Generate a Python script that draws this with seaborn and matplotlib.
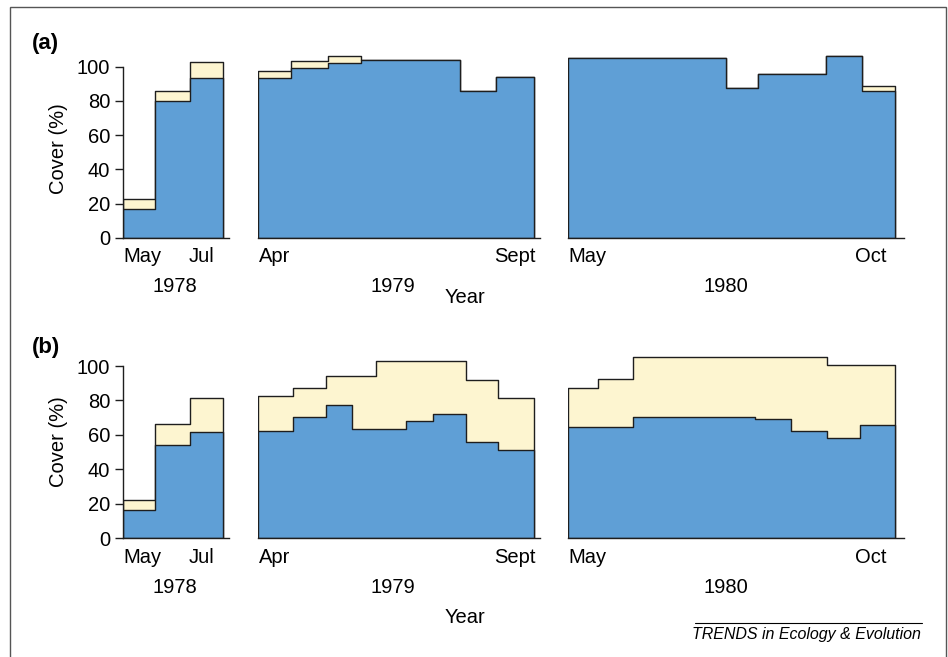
#!/usr/bin/env python3
#
# Seasonal cover of two layers, 1978-1980, panels (a) and (b)
#
import numpy as np
import pandas as pd
import matplotlib
matplotlib.use('Agg')
import matplotlib.pyplot as plt
from matplotlib.patches import Rectangle
from matplotlib.lines import Line2D
import seaborn as sns

sns.set_style('ticks')
plt.rcParams['font.family'] = ['Liberation Sans', 'DejaVu Sans']
plt.rcParams['text.color'] = 'black'
plt.rcParams['xtick.color'] = 'black'
plt.rcParams['ytick.color'] = 'black'
plt.rcParams['axes.labelcolor'] = 'black'

#
# Data (x = day of year at interval edges, y = cover %)
#
days_1978 = [121, 142, 165, 187]
a_blue_1978 = [17, 80, 93.5]
a_total_1978 = [22.5, 86, 102.5]
b_blue_1978 = [16.5, 54, 61.5]
b_total_1978 = [22.5, 66.5, 81.5]

days_1979_a = [91, 113, 137, 159, 225, 249, 274]
a_blue_1979 = [93.5, 99.5, 102, 104, 85.5, 94]
a_total_1979 = [97.5, 103.5, 106.5, 104, 85.5, 94]

days_1979_b = [91, 114, 136, 153, 169, 189, 207, 229, 250, 274]
b_blue_1979 = [62.5, 70.5, 77.5, 63.5, 63.5, 68, 72, 56, 51]
b_total_1979 = [82.5, 87.5, 94.5, 94.5, 103, 103, 103, 92, 81.5]

days_1980_a = [122, 227, 248, 293, 317, 339]
a_blue_1980 = [105, 87.5, 96, 106.5, 85.5]
a_total_1980 = [105, 87.5, 96, 106.5, 89]

days_1980_b = [122, 142, 165, 246, 270, 294, 316, 339]
b_blue_1980 = [64.5, 64.5, 70.5, 69, 62, 58.5, 66]
b_total_1980 = [87.5, 92.5, 105, 105, 105, 100.5, 100.5]

years = ['1978', '1979', '1980']
tick_days_1978 = [134, 173]
tick_days_1979 = [102, 261]
tick_days_1980 = [135, 323]
tick_names_1978 = ['May', 'Jul']
tick_names_1979 = ['Apr', 'Sept']
tick_names_1980 = ['May', 'Oct']

blue = '#5f9fd6'
cream = '#fdf5d0'
dark = '#1e1e1e'

W, H = 948, 657


def fx(px):
    return px / W


def fy(py):
    return 1 - py / H


def draw_cover(ax, edges, lower, total):
    edges = [float(e) for e in edges]
    mids = [(a + b) / 2 for a, b in zip(edges[:-1], edges[1:])]
    for vals, col in ((total, cream), (lower, blue)):
        df = pd.DataFrame({'day': mids, 'cover': vals})
        sns.histplot(data=df, x='day', weights='cover', bins=edges,
                     element='step', fill=True, color=col, alpha=1,
                     edgecolor=dark, linewidth=1.0, ax=ax)


fig = plt.figure(figsize=(W / 100, H / 100), dpi=100)

# Axes boxes in pixels: (left, right), and y pixel of 0 and of 110
xboxes = [(122.7, 229), (258.3, 540), (568.3, 904)]
xlims = [(121, 191), (91, 278), (122, 345)]
rows = [
    ('(a)', 237.7, 49.6,
     [(days_1978, a_blue_1978, a_total_1978),
      (days_1979_a, a_blue_1979, a_total_1979),
      (days_1980_a, a_blue_1980, a_total_1980)]),
    ('(b)', 538.3, 348.8,
     [(days_1978, b_blue_1978, b_total_1978),
      (days_1979_b, b_blue_1979, b_total_1979),
      (days_1980_b, b_blue_1980, b_total_1980)]),
]
ticks = [(tick_days_1978, tick_names_1978),
         (tick_days_1979, tick_names_1979),
         (tick_days_1980, tick_names_1980)]
year_x = [175, 393, 726]

for irow, (tag, y0, y110, series) in enumerate(rows):
    for icol, (edges, lower, total) in enumerate(series):
        l, r = xboxes[icol]
        ax = fig.add_axes([fx(l), fy(y0), fx(r - l), (y0 - y110) / H])
        draw_cover(ax, edges, lower, total)
        ax.set_xlim(*xlims[icol])
        ax.set_ylim(0, 110)
        ax.set_xlabel('')
        ax.set_ylabel('')
        ax.set_xticks(ticks[icol][0])
        ax.set_xticklabels(ticks[icol][1], fontsize=14.5)
        ax.tick_params(axis='x', length=0, pad=7)
        for side in ('top', 'right'):
            ax.spines[side].set_visible(False)
        ax.spines['bottom'].set_linewidth(1.0)
        ax.spines['bottom'].set_color(dark)
        if icol == 0:
            ax.spines['left'].set_bounds(0, 100)
            ax.spines['left'].set_linewidth(1.0)
            ax.spines['left'].set_color(dark)
            ax.set_yticks(range(0, 101, 20))
            ax.tick_params(axis='y', length=5.5, width=1.0, pad=3.5,
                           labelsize=14.5, color=dark)
        else:
            ax.spines['left'].set_visible(False)
            ax.set_yticks([])
        ax.patch.set_alpha(0)

        base = 292 if irow == 0 else 593.3
        fig.text(fx(year_x[icol]), fy(base), years[icol], fontsize=14.5,
                 ha='center', va='baseline')

    # Panel tag, y label and shared x label
    fig.text(fx(32), fy(44 if irow == 0 else 348), tag, fontsize=16,
             fontweight='bold', ha='left', va='center')
    fig.text(fx(58), fy(148.3 if irow == 0 else 441.7), 'Cover (%)',
             fontsize=14.5, rotation=90, ha='center', va='center')
    fig.text(fx(464.5), fy(303.3 if irow == 0 else 622.7), 'Year',
             fontsize=14.5, ha='center', va='baseline')

# Footer credit
fig.add_artist(Line2D([fx(695), fx(922)], [fy(623), fy(623)],
                      transform=fig.transFigure, color='black', lw=0.8))
fig.text(fx(921), fy(639), 'TRENDS in Ecology & Evolution', fontsize=11.5,
         style='italic', ha='right', va='baseline')

# Outer frame
fig.add_artist(Rectangle((fx(10), -0.02), fx(936), fy(7) + 0.02,
                         transform=fig.transFigure, fill=False,
                         ec='#555555', lw=1.0))

fig.savefig('out.png', dpi=100)
